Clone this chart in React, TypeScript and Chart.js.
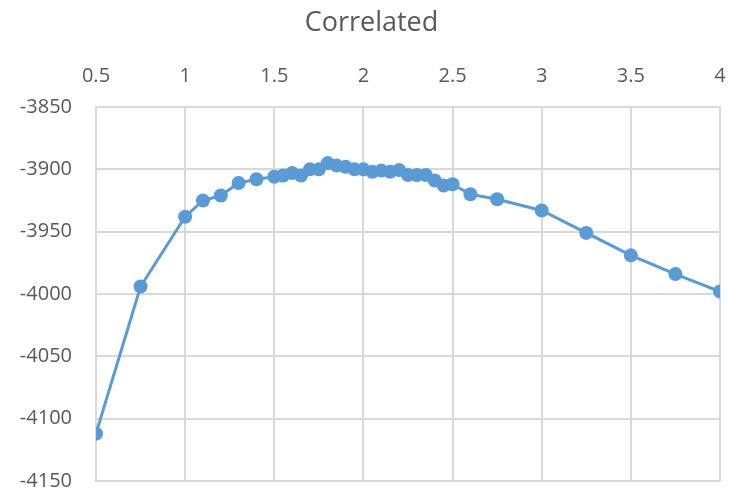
import { useEffect, useRef } from "react";
import { Chart, registerables, type Plugin } from "chart.js";

Chart.register(...registerables);

// x positions (top axis) and the correlated score read at each one
const xValues = [
  0.5, 0.75, 1, 1.1, 1.2, 1.3, 1.4, 1.5, 1.55, 1.6, 1.65, 1.7, 1.75, 1.8, 1.85, 1.9, 1.95, 2, 2.05,
  2.1, 2.15, 2.2, 2.25, 2.3, 2.35, 2.4, 2.45, 2.5, 2.6, 2.75, 3, 3.25, 3.5, 3.75, 4,
];
const yValues = [
  -4112, -3994, -3938, -3925, -3921, -3911, -3908, -3906, -3905, -3903, -3905, -3900, -3900, -3895,
  -3897, -3898, -3900, -3900, -3902, -3901, -3902, -3900.5, -3904.5, -3904.5, -3904.5, -3909, -3913,
  -3912, -3920, -3924, -3933, -3951, -3969, -3984, -3998,
];

const TITLE = "Correlated";
const X_MIN = 0.5;
const X_MAX = 4;
const X_STEP = 0.5;
const Y_MIN = -4150;
const Y_MAX = -3850;
const Y_STEP = 50;

const BLUE = "#5B9BD5";
const GRID = "#D9D9D9";
const TEXT = "#595959";
const FONT = "'Open Sans', sans-serif";

// Excel centres the title a little right of the canvas middle
const titleShift: Plugin = {
  id: "titleShift",
  afterLayout(chart) {
    const block = (chart as unknown as { titleBlock?: { left: number } }).titleBlock;
    if (block) block.left += 23;
  },
};

export default function App() {
  const canvasRef = useRef<HTMLCanvasElement>(null);

  useEffect(() => {
    document.body.style.margin = "0";
    if (!canvasRef.current) return;

    const chart = new Chart(canvasRef.current, {
      type: "line",
      data: {
        datasets: [
          {
            label: TITLE,
            data: xValues.map((x, i) => ({ x, y: yValues[i] })),
            borderColor: BLUE,
            backgroundColor: BLUE,
            pointBackgroundColor: BLUE,
            pointBorderColor: BLUE,
            borderWidth: 3,
            pointRadius: 7,
            pointBorderWidth: 0,
            tension: 0,
            fill: false,
          },
        ],
      },
      options: {
        responsive: false,
        animation: false,
        layout: { padding: { left: 0, right: 10, top: 0, bottom: 11 } },
        plugins: {
          legend: { display: false },
          tooltip: { enabled: false },
          title: {
            display: true,
            text: TITLE,
            color: TEXT,
            font: { family: FONT, size: 27, weight: "normal", lineHeight: 1.2 },
            padding: { top: 7, bottom: 0 },
          },
        },
        scales: {
          x: {
            type: "linear",
            position: "top",
            min: X_MIN,
            max: X_MAX,
            afterFit: (scale) => {
              // title block is 7 + 27 * 1.2 high; plot top sits at 107
              scale.height = 107 - 39.4;
              scale.paddingLeft = 0;
              scale.paddingRight = 0;
            },
            ticks: {
              stepSize: X_STEP,
              color: TEXT,
              padding: 19,
              maxRotation: 0,
              font: { family: FONT, size: 20 },
              callback: (v) => String(v),
            },
            grid: { color: GRID, lineWidth: 2, drawTicks: false },
            border: { display: true, color: GRID, width: 2 },
          },
          y: {
            type: "linear",
            min: Y_MIN,
            max: Y_MAX,
            afterFit: (scale) => {
              scale.width = 96;
              scale.paddingTop = 0;
              scale.paddingBottom = 0;
            },
            ticks: {
              stepSize: Y_STEP,
              color: TEXT,
              padding: 24,
              font: { family: FONT, size: 20 },
              callback: (v) => String(v),
            },
            grid: { color: GRID, lineWidth: 2, drawTicks: false },
            border: { display: true, color: GRID, width: 2 },
          },
        },
      },
      plugins: [titleShift],
    });

    return () => {
      chart.destroy();
    };
  }, []);

  return (
    <div style={{ width: 730, height: 492, background: "#fff" }}>
      <canvas ref={canvasRef} width={730} height={492} />
    </div>
  );
}
